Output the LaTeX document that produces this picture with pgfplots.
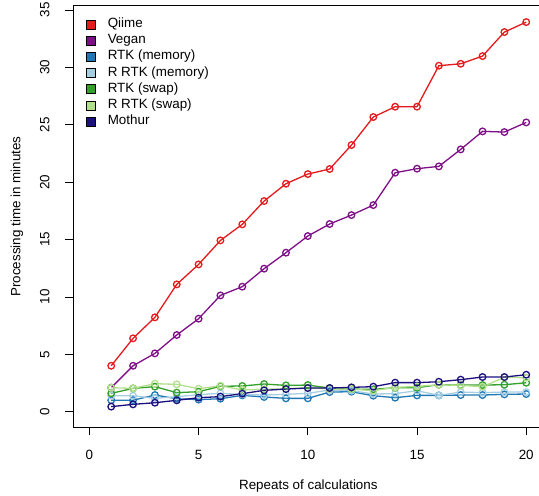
\documentclass[border=0pt]{standalone}
\usepackage{pgfplots}
\pgfplotsset{compat=1.18}
\usepackage{fontspec}
\setmainfont{Liberation Sans}
\definecolor{cQiime}{HTML}{E41A1C}
\definecolor{cVegan}{HTML}{7E0F86}
\definecolor{cRTKm}{HTML}{1F78B4}
\definecolor{cRRTKm}{HTML}{A6CEE3}
\definecolor{cRTKs}{HTML}{33A02C}
\definecolor{cRRTKs}{HTML}{B2DF8A}
\definecolor{cMothur}{HTML}{1C0F7E}
\newcommand{\legsq}[1]{\addlegendimage{legend image code/.code={\draw[fill=#1,draw=black,line width=0.6bp] (0bp,-4.5bp) rectangle (9bp,4.5bp);}}}
\begin{document}
\begin{tikzpicture}
\begin{axis}[
  at={(73bp,68.7bp)}, anchor=south west,
  scale only axis, width=470.7bp, height=421.5bp,
  xmin=-0.75, xmax=20.8, ymin=-1.36, ymax=35.36,
  xtick={0,5,10,15,20}, ytick={0,5,10,15,20,25,30,35},
  tick align=outside, xtick pos=bottom, ytick pos=left,
  major tick length=8bp,
  tick style={black, line width=0.8bp},
  axis line style={black, line width=0.8bp},
  /pgf/number format/assume math mode=true,
  ticklabel style={font=\fontsize{13.4bp}{15bp}\selectfont},
  xticklabel style={yshift=-11bp},
  yticklabel style={xshift=-12bp, rotate=90, anchor=south},
  xlabel={Repeats of calculations},
  ylabel={Processing time in minutes},
  every axis x label/.style={at={(axis description cs:0.5,0)}, yshift=-59bp, anchor=center, font=\fontsize{13.4bp}{15bp}\selectfont},
  every axis y label/.style={at={(axis description cs:0,0.5)}, xshift=-56bp, rotate=90, anchor=center, font=\fontsize{13.4bp}{15bp}\selectfont},
  legend style={at={(axis description cs:0,1)}, anchor=north west, xshift=13bp, yshift=-11bp, draw=none, fill=none, inner sep=0pt,
    font=\fontsize{13.4bp}{15bp}\selectfont, row sep=1.2bp,
    nodes={inner sep=2bp, text height=8.5bp, text depth=2.5bp},
    /tikz/every odd column/.append style={column sep=10bp}},
  legend cell align=left,
  every axis plot/.append style={line width=1.3bp, mark=o, mark size=3.3bp, mark options={solid}},
]
\legsq{cQiime}\addlegendentry{Qiime}
\legsq{cVegan}\addlegendentry{Vegan}
\legsq{cRTKm}\addlegendentry{RTK (memory)}
\legsq{cRRTKm}\addlegendentry{R RTK (memory)}
\legsq{cRTKs}\addlegendentry{RTK (swap)}
\legsq{cRRTKs}\addlegendentry{R RTK (swap)}
\legsq{cMothur}\addlegendentry{Mothur}

\addplot[color=cQiime, forget plot] coordinates {(1,4.0) (2,6.39) (3,8.22) (4,11.09) (5,12.83) (6,14.92) (7,16.32) (8,18.35) (9,19.86) (10,20.70) (11,21.14) (12,23.23) (13,25.67) (14,26.57) (15,26.57) (16,30.14) (17,30.31) (18,30.98) (19,33.07) (20,33.94)};
\addplot[color=cVegan, forget plot] coordinates {(1,2.09) (2,4.0) (3,5.08) (4,6.68) (5,8.10) (6,10.13) (7,10.89) (8,12.46) (9,13.85) (10,15.30) (11,16.35) (12,17.13) (13,18.00) (14,20.82) (15,21.17) (16,21.37) (17,22.85) (18,24.42) (19,24.36) (20,25.20)};
\addplot[color=cRTKm, forget plot] coordinates {(1,1.0) (2,1.0) (3,1.45) (4,1.13) (5,1.05) (6,1.13) (7,1.42) (8,1.28) (9,1.16) (10,1.16) (11,1.71) (12,1.74) (13,1.39) (14,1.22) (15,1.42) (16,1.42) (17,1.45) (18,1.45) (19,1.51) (20,1.54)};
\addplot[color=cRRTKm, forget plot] coordinates {(1,1.39) (2,1.39) (3,1.16) (4,1.31) (5,1.48) (6,1.60) (7,1.50) (8,1.45) (9,1.51) (10,1.60) (11,1.89) (12,1.83) (13,1.54) (14,1.57) (15,1.83) (16,1.42) (17,1.71) (18,1.66) (19,1.71) (20,1.71)};
\addplot[color=cRTKs, forget plot] coordinates {(1,1.60) (2,2.03) (3,2.18) (4,1.66) (5,1.74) (6,2.21) (7,2.24) (8,2.41) (9,2.29) (10,2.32) (11,2.06) (12,1.97) (13,1.95) (14,2.09) (15,2.09) (16,2.35) (17,2.32) (18,2.32) (19,2.35) (20,2.52)};
\addplot[color=cRRTKs, forget plot] coordinates {(1,2.09) (2,2.03) (3,2.44) (4,2.38) (5,2.00) (6,2.26) (7,1.89) (8,1.95) (9,2.00) (10,2.09) (11,1.97) (12,1.97) (13,1.83) (14,2.12) (15,2.20) (16,2.35) (17,2.29) (18,2.18) (19,2.99) (20,2.96)};
\addplot[color=cMothur, forget plot] coordinates {(1,0.44) (2,0.64) (3,0.78) (4,0.99) (5,1.22) (6,1.31) (7,1.57) (8,1.86) (9,1.97) (10,2.06) (11,2.06) (12,2.12) (13,2.18) (14,2.53) (15,2.53) (16,2.61) (17,2.79) (18,3.02) (19,3.02) (20,3.22)};
\end{axis}
\pgfresetboundingbox
\useasboundingbox (0bp,0bp) rectangle (539bp,496bp);
\end{tikzpicture}
\end{document}
